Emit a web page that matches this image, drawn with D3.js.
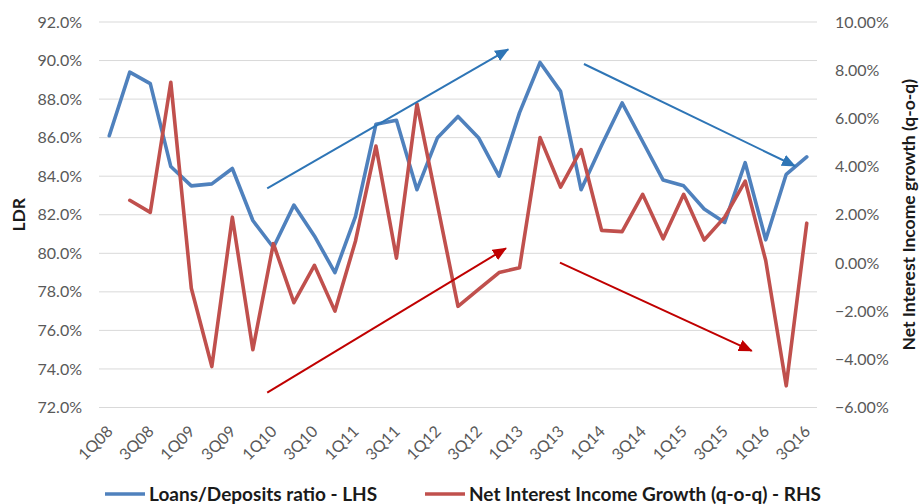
<!DOCTYPE html>
<html>
<head>
<meta charset="utf-8">
<script src="https://cdn.jsdelivr.net/npm/d3@7/dist/d3.min.js"></script>
<style>
  html, body { margin: 0; padding: 0; background: #fff; }
  svg { display: block; font-family: Lato, "Liberation Sans", sans-serif; }
</style>
</head>
<body>
<svg id="chart" width="923" height="504"></svg>
<script>
// Quarters from 1Q08 to 3Q16
const quarters = [
  "1Q08","2Q08","3Q08","4Q08","1Q09","2Q09","3Q09","4Q09",
  "1Q10","2Q10","3Q10","4Q10","1Q11","2Q11","3Q11","4Q11",
  "1Q12","2Q12","3Q12","4Q12","1Q13","2Q13","3Q13","4Q13",
  "1Q14","2Q14","3Q14","4Q14","1Q15","2Q15","3Q15","4Q15",
  "1Q16","2Q16","3Q16"
];

// Loans/Deposits ratio (%), left axis
const ldr = [
  86.1, 89.4, 88.8, 84.5, 83.5, 83.6, 84.4, 81.7,
  80.3, 82.5, 80.9, 79.0, 81.9, 86.7, 86.9, 83.3,
  86.0, 87.1, 86.0, 84.0, 87.3, 89.9, 88.4, 83.3,
  85.6, 87.8, 85.8, 83.8, 83.5, 82.3, 81.6, 84.7,
  80.7, 84.1, 85.0
];

// Net interest income growth q-o-q (%), right axis
const nii = [
  null, 2.6, 2.1, 7.5, -1.05, -4.3, 1.9, -3.6,
  0.8, -1.65, -0.1, -2.0, 0.9, 4.85, 0.2, 6.6,
  2.4, -1.8, -1.1, -0.4, -0.2, 5.2, 3.15, 4.7,
  1.35, 1.3, 2.85, 1.0, 2.85, 0.95, 1.9, 3.4,
  0.1, -5.1, 1.65
];

// Axis tick values
const leftTicks = [72, 74, 76, 78, 80, 82, 84, 86, 88, 90, 92];
const rightTicks = [-6, -4, -2, 0, 2, 4, 6, 8, 10];

// Trend arrows: [startIndex, startValue, endIndex, endValue]
const ldrTrends = [
  [7.7, 83.37, 19.45, 90.58],
  [23.14, 89.82, 33.43, 84.53]
];
const niiTrends = [
  [7.7, -5.38, 19.34, 0.61],
  [21.97, 0.01, 31.32, -3.65]
];

const legendItems = [
  { label: "Loans/Deposits ratio - LHS", color: "#4F81BD" },
  { label: "Net Interest Income Growth (q-o-q) - RHS", color: "#C0504D" }
];

const svg = d3.select("#chart");
const plot = { left: 99, right: 817, top: 22, bottom: 407.5 };

const x = d3.scalePoint().domain(quarters).range([plot.left, plot.right]).padding(0.5);
const xi = d3.scaleLinear()
  .domain([0, quarters.length - 1])
  .range([x(quarters[0]), x(quarters[quarters.length - 1])]);
const yL = d3.scaleLinear().domain([72, 92]).range([plot.bottom, plot.top]);
const yR = d3.scaleLinear().domain([-6, 10]).range([plot.bottom, plot.top]);

// Horizontal gridlines
svg.append("g")
  .selectAll("line")
  .data(leftTicks)
  .join("line")
  .attr("x1", plot.left).attr("x2", plot.right)
  .attr("y1", d => yL(d)).attr("y2", d => yL(d))
  .attr("stroke", "#d9d9d9").attr("stroke-width", 1);

// Left axis
const leftAxis = svg.append("g")
  .attr("transform", `translate(${plot.left},0)`)
  .call(d3.axisLeft(yL).tickValues(leftTicks).tickSize(0).tickPadding(17)
    .tickFormat(d => d3.format(".1f")(d) + "%"));
leftAxis.select(".domain").remove();
leftAxis.selectAll("text").attr("font-size", 16).attr("fill", "#595959")
  .attr("font-family", "Lato, sans-serif");

// Right axis
const rightAxis = svg.append("g")
  .attr("transform", `translate(${plot.right},0)`)
  .call(d3.axisRight(yR).tickValues(rightTicks).tickSize(0).tickPadding(18)
    .tickFormat(d => d3.format(".2f")(d) + "%"));
rightAxis.select(".domain").remove();
rightAxis.selectAll("text").attr("font-size", 16).attr("fill", "#595959")
  .attr("font-family", "Lato, sans-serif");

// Category labels, every second quarter, rotated
const xAxis = svg.append("g")
  .attr("transform", `translate(0,${plot.bottom})`)
  .call(d3.axisBottom(x).tickValues(quarters.filter((q, i) => i % 2 === 0)).tickSize(0));
xAxis.select(".domain").remove();
xAxis.selectAll("text")
  .attr("font-size", 16).attr("fill", "#595959")
  .attr("font-family", "Lato, sans-serif")
  .attr("text-anchor", "end")
  .attr("y", 0).attr("dy", 0)
  .attr("transform", "translate(4,25) rotate(-45)");

// Axis titles
svg.append("text")
  .attr("transform", `translate(25,${(plot.top + plot.bottom) / 2}) rotate(-90)`)
  .attr("text-anchor", "middle")
  .attr("font-size", 17.5).attr("font-weight", "bold").attr("fill", "#1a1a1a")
  .text("LDR");
svg.append("text")
  .attr("transform", `translate(915,${(plot.top + plot.bottom) / 2}) rotate(-90)`)
  .attr("text-anchor", "middle")
  .attr("font-size", 17.5).attr("font-weight", "bold").attr("fill", "#1a1a1a")
  .text("Net Interest Income growth (q-o-q)");

// Series lines
const lineL = d3.line().x((d, i) => x(quarters[i])).y(d => yL(d));
const lineR = d3.line().defined(d => d !== null).x((d, i) => x(quarters[i])).y(d => yR(d));

svg.append("path").datum(ldr)
  .attr("d", lineL).attr("fill", "none")
  .attr("stroke", "#4F81BD").attr("stroke-width", 3.6)
  .attr("stroke-linejoin", "round").attr("stroke-linecap", "round");
svg.append("path").datum(nii)
  .attr("d", lineR).attr("fill", "none")
  .attr("stroke", "#C0504D").attr("stroke-width", 3.6)
  .attr("stroke-linejoin", "round").attr("stroke-linecap", "round");

// Arrowhead markers
const defs = svg.append("defs");
[["arrowBlue", "#2E75B6"], ["arrowRed", "#C00000"]].forEach(([id, c]) => {
  defs.append("marker")
    .attr("id", id)
    .attr("viewBox", "0 0 14 12")
    .attr("refX", 13).attr("refY", 6)
    .attr("markerWidth", 14).attr("markerHeight", 12)
    .attr("markerUnits", "userSpaceOnUse")
    .attr("orient", "auto")
    .append("path").attr("d", "M0,0 L14,6 L0,12 Z").attr("fill", c);
});

svg.append("g").selectAll("line")
  .data(ldrTrends).join("line")
  .attr("x1", d => xi(d[0])).attr("y1", d => yL(d[1]))
  .attr("x2", d => xi(d[2])).attr("y2", d => yL(d[3]))
  .attr("stroke", "#2E75B6").attr("stroke-width", 2)
  .attr("marker-end", "url(#arrowBlue)");
svg.append("g").selectAll("line")
  .data(niiTrends).join("line")
  .attr("x1", d => xi(d[0])).attr("y1", d => yR(d[1]))
  .attr("x2", d => xi(d[2])).attr("y2", d => yR(d[3]))
  .attr("stroke", "#C00000").attr("stroke-width", 2)
  .attr("marker-end", "url(#arrowRed)");

// Legend
const legendX = [105, 425];
const legend = svg.append("g");
legendItems.forEach((item, i) => {
  const g = legend.append("g").attr("transform", `translate(${legendX[i]},494)`);
  g.append("line").attr("x1", 0).attr("x2", 40).attr("y1", 0).attr("y2", 0)
    .attr("stroke", item.color).attr("stroke-width", 3.6);
  g.append("text").attr("x", 44).attr("y", 0).attr("dy", "0.36em")
    .attr("font-size", 19).attr("font-weight", "bold").attr("fill", "#1a1a1a")
    .text(item.label);
});
</script>
</body>
</html>
